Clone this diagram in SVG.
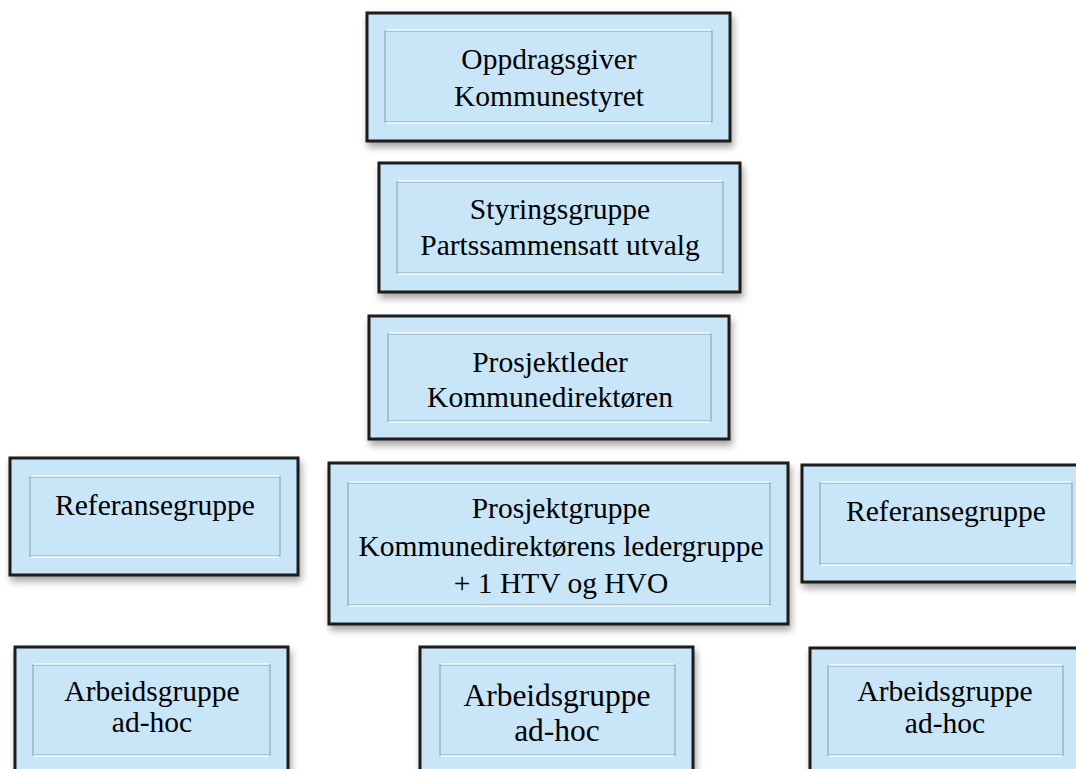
<svg xmlns="http://www.w3.org/2000/svg" width="1076" height="769" viewBox="0 0 1076 769">
  <defs>
    <filter id="sh" x="-10%" y="-10%" width="125%" height="135%">
      <feDropShadow dx="2" dy="5" stdDeviation="3.5" flood-color="#000" flood-opacity="0.35"/>
    </filter>
    <style>
      .outer { fill: #c8e6f8; stroke: #1a1a1a; stroke-width: 3; filter: url(#sh); }
      .inner { fill: #c8e6f8; stroke: #93a8b6; stroke-width: 1.2; }
      .hl { fill: none; stroke: #f4fbff; stroke-width: 1.6; }
      .t { font-family: "Liberation Serif", "Times New Roman", serif; font-size: 29.5px; fill: #000; text-anchor: middle; }
      .tb { font-size: 31.5px; }
    </style>
  </defs>
  <rect width="1076" height="769" fill="#ffffff"/>
  <g id="connectors"/>

  <g id="oppdragsgiver">
    <rect class="outer" x="367" y="13" width="363" height="128"/>
    <rect class="inner" x="385" y="31" width="327" height="91"/>
    <path class="hl" d="M386 30 H711 M386 123 H711"/>
    <text class="t" x="549" y="69">Oppdragsgiver</text>
    <text class="t" x="549" y="106">Kommunestyret</text>
  </g>

  <g id="styringsgruppe">
    <rect class="outer" x="379" y="163" width="361" height="129"/>
    <rect class="inner" x="397" y="182" width="326" height="91"/>
    <path class="hl" d="M398 181 H722 M398 274 H722"/>
    <text class="t" x="560" y="219">Styringsgruppe</text>
    <text class="t" x="560" y="255">Partssammensatt utvalg</text>
  </g>

  <g id="prosjektleder">
    <rect class="outer" x="369" y="316" width="360" height="123"/>
    <rect class="inner" x="388" y="334" width="323" height="87"/>
    <path class="hl" d="M389 333 H710 M389 422 H710"/>
    <text class="t" x="550" y="372">Prosjektleder</text>
    <text class="t" x="550" y="407">Kommunedirektøren</text>
  </g>

  <g id="referansegruppe-venstre">
    <rect class="outer" x="10" y="458" width="288" height="117"/>
    <rect class="inner" x="30" y="477" width="250" height="79"/>
    <path class="hl" d="M31 476 H279 M31 557 H279"/>
    <text class="t" x="155" y="515">Referansegruppe</text>
  </g>

  <g id="prosjektgruppe">
    <rect class="outer" x="329" y="463" width="459" height="161"/>
    <rect class="inner" x="348" y="483" width="422" height="122"/>
    <path class="hl" d="M349 482 H769 M349 606 H769"/>
    <text class="t" x="561" y="518">Prosjektgruppe</text>
    <text class="t" x="561" y="556">Kommunedirektørens ledergruppe</text>
    <text class="t" x="561" y="593">+ 1 HTV og HVO</text>
  </g>

  <g id="referansegruppe-hoyre">
    <rect class="outer" x="802" y="465" width="290" height="117"/>
    <rect class="inner" x="820" y="483" width="252" height="81"/>
    <path class="hl" d="M821 482 H1071 M821 565 H1071"/>
    <text class="t" x="946" y="521">Referansegruppe</text>
  </g>

  <g id="arbeidsgruppe-venstre">
    <rect class="outer" x="15" y="647" width="273" height="140"/>
    <rect class="inner" x="33" y="665" width="237" height="90"/>
    <path class="hl" d="M34 664 H269 M34 756 H269"/>
    <text class="t" x="152" y="701">Arbeidsgruppe</text>
    <text class="t" x="152" y="732">ad-hoc</text>
  </g>

  <g id="arbeidsgruppe-midt">
    <rect class="outer" x="420" y="647" width="273" height="140"/>
    <rect class="inner" x="440" y="665" width="235" height="90"/>
    <path class="hl" d="M441 664 H674 M441 756 H674"/>
    <text class="t tb" x="557" y="706">Arbeidsgruppe</text>
    <text class="t tb" x="557" y="741">ad-hoc</text>
  </g>

  <g id="arbeidsgruppe-hoyre">
    <rect class="outer" x="810" y="648" width="280" height="140"/>
    <rect class="inner" x="828" y="666" width="235" height="89"/>
    <path class="hl" d="M829 665 H1062 M829 756 H1062"/>
    <text class="t" x="945" y="701">Arbeidsgruppe</text>
    <text class="t" x="945" y="733">ad-hoc</text>
  </g>
</svg>
